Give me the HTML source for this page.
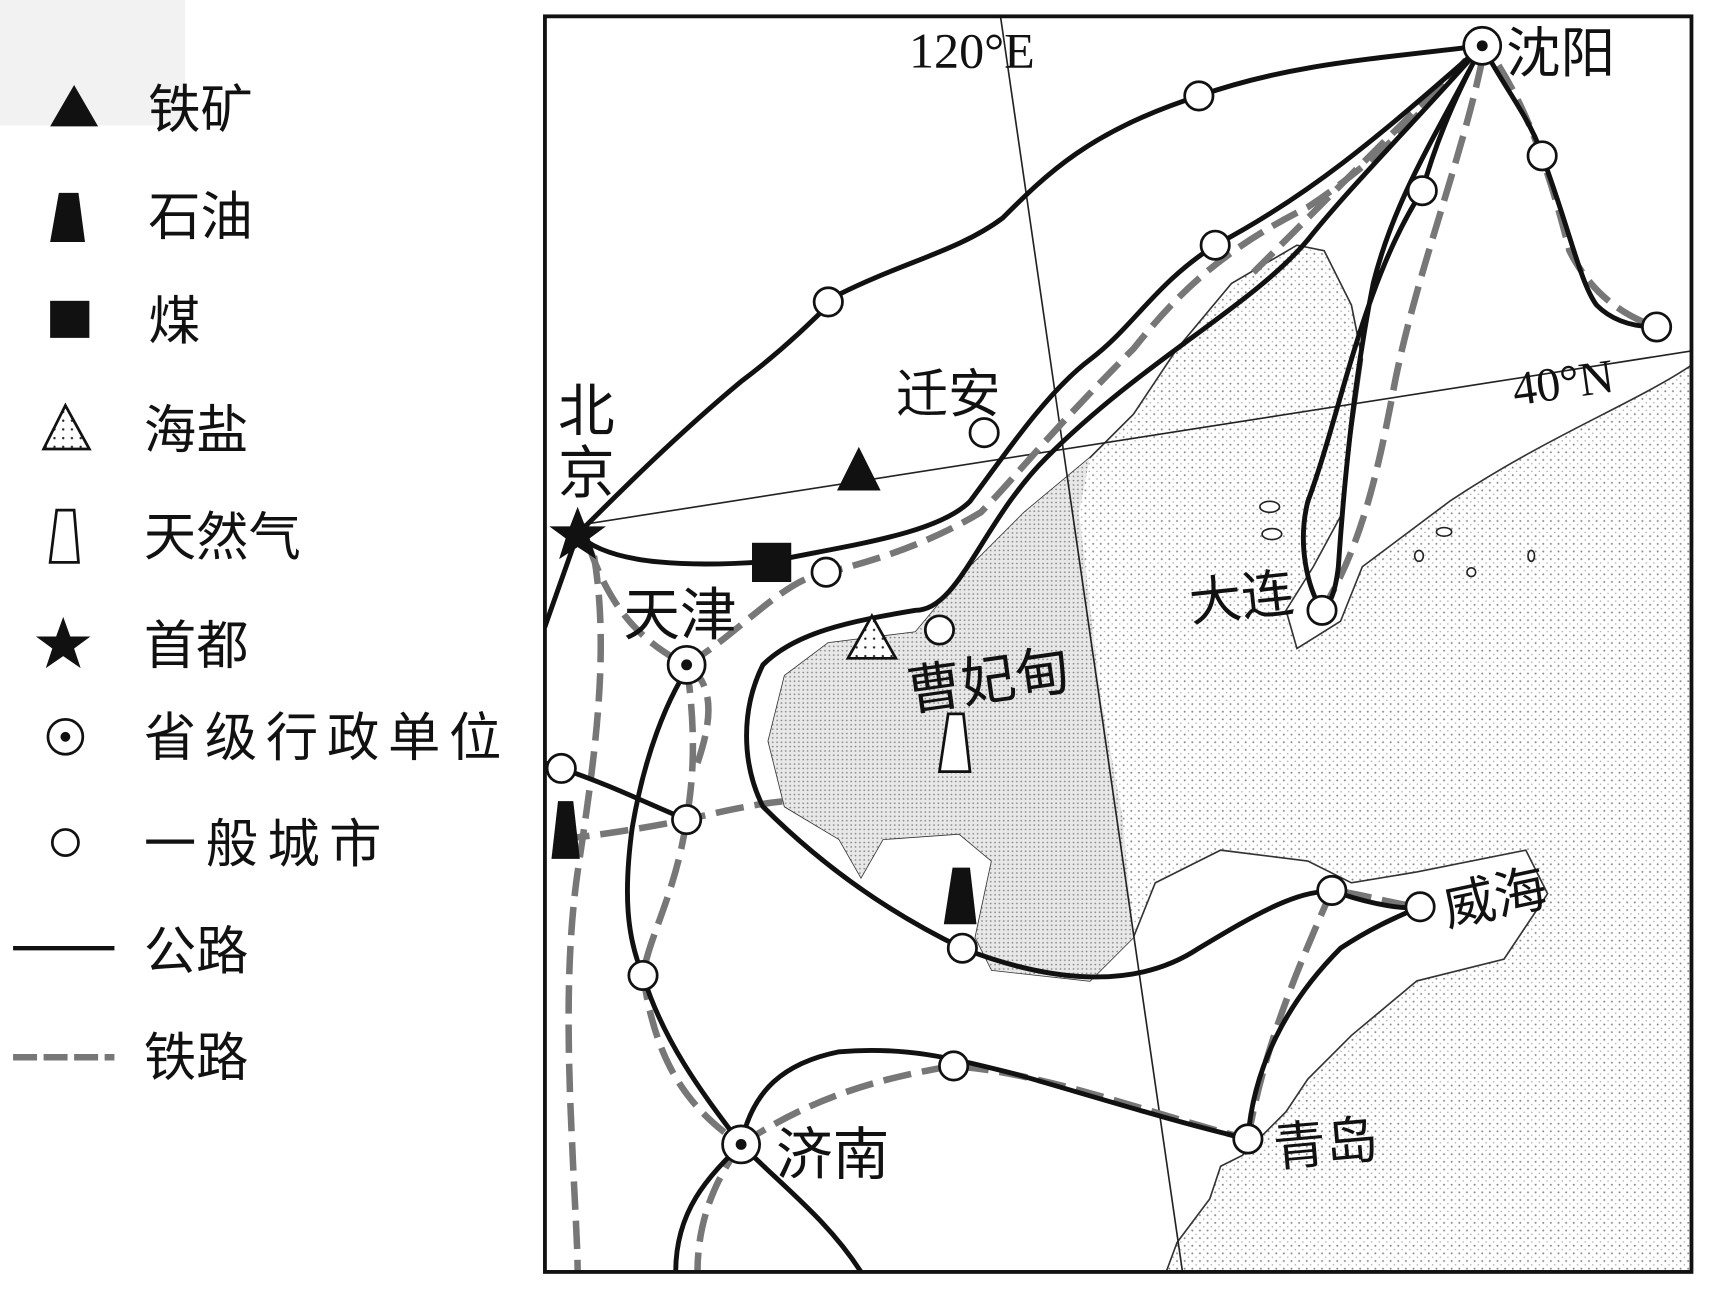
<!DOCTYPE html>
<html><head><meta charset="utf-8"><style>
html,body{margin:0;padding:0;background:#fff;}
svg{display:block;}
text{font-family:"Liberation Sans","Noto Sans CJK SC",sans-serif;fill:#111;}
.serif{font-family:"Liberation Serif","Noto Serif CJK SC",serif;}
.road{fill:none;stroke:#111;stroke-width:4.5;stroke-linejoin:round;stroke-linecap:round;}
.rail{fill:none;stroke:#777;stroke-width:6;stroke-dasharray:26 10;}
.city{fill:#fff;stroke:#111;stroke-width:2.5;}
</style></head><body>
<svg width="1710" height="1297" viewBox="0 0 1569 1190" preserveAspectRatio="none" xmlns="http://www.w3.org/2000/svg">
<defs>
<pattern id="dots1" width="7" height="7" patternUnits="userSpaceOnUse"><rect width="7" height="7" fill="#fff"/><circle cx="2" cy="2" r="0.9" fill="#888"/><circle cx="5.5" cy="5.5" r="0.7" fill="#aaa"/></pattern>
<pattern id="dots2" width="4" height="4" patternUnits="userSpaceOnUse"><rect width="4" height="4" fill="#e8e8e8"/><circle cx="1" cy="1" r="0.8" fill="#888"/></pattern>
<pattern id="dots3" width="8" height="8" patternUnits="userSpaceOnUse"><rect width="8" height="8" fill="#fff"/><circle cx="2" cy="2" r="1.1" fill="#222"/></pattern>
</defs>
<rect x="0" y="0" width="170" height="115" fill="#f2f2f2"/>
<!-- legend -->
<polygon points="68,78 46,116 90,116" fill="#111"/>
<text x="136" y="117" font-size="48">铁矿</text>
<polygon points="54,177 72,177 78,222 46,222" fill="#111"/>
<text x="136" y="215" font-size="48">石油</text>
<rect x="46" y="276" width="36" height="34" fill="#111"/>
<text x="136" y="311" font-size="48">煤</text>
<polygon points="60,372 40,412 82,412" fill="url(#dots3)" stroke="#111" stroke-width="2.5"/>
<text x="132" y="411" font-size="48">海盐</text>
<polygon points="52,468 68,468 72,516 46,516" fill="#fff" stroke="#111" stroke-width="2.5"/>
<text x="132" y="509" font-size="48">天然气</text>
<polygon points="58,566 64.5,584 83,584 68,595 74,613 58,602 42,613 48,595 33,584 51.5,584" fill="#111"/>
<text x="132" y="609" font-size="48">首都</text>
<circle cx="60" cy="676" r="16" fill="#fff" stroke="#111" stroke-width="2.5"/><circle cx="60" cy="676" r="4.5" fill="#111"/>
<text x="132" y="693" font-size="48" textLength="328">省级行政单位</text>
<circle cx="60" cy="773" r="12" fill="#fff" stroke="#111" stroke-width="2.5"/>
<text x="132" y="791" font-size="48" textLength="218">一般城市</text>
<line x1="12" y1="870" x2="105" y2="870" stroke="#111" stroke-width="4"/>
<text x="132" y="889" font-size="48">公路</text>
<line x1="12" y1="970" x2="105" y2="970" stroke="#777" stroke-width="6" stroke-dasharray="22 6"/>
<text x="132" y="987" font-size="48">铁路</text>

<!-- map -->
<clipPath id="fr"><rect x="500" y="15" width="1052" height="1152"/></clipPath>
<g clip-path="url(#fr)">
<path d="M1552,335 C1500,370 1420,400 1330,460 L1250,520 L1230,570 L1190,595 L1180,560 L1205,520 L1232,470 L1240,400 L1250,330 L1240,280 L1215,230 L1190,225 L1130,260 L1080,320 L1040,380 L1000,420 L940,470 L890,520 L840,580 L760,590 L720,620 L705,680 L720,740 L770,770 L790,805 L810,770 L880,765 L910,790 L895,860 L910,890 L1000,900 L1040,860 L1060,810 L1120,780 L1200,790 L1240,810 L1300,800 L1400,780 L1420,820 L1380,880 L1300,900 L1240,950 L1200,990 L1180,1020 L1140,1060 L1120,1070 L1110,1100 L1080,1140 L1070,1167 L1552,1167 Z" fill="url(#dots1)" stroke="#333" stroke-width="1.5"/>
<path d="M1000,420 L940,470 L890,520 L840,580 L760,590 L720,620 L705,680 L720,740 L770,770 L790,805 L810,770 L880,765 L910,790 L895,860 L910,890 L1000,900 L1040,860 L1030,750 L1010,640 L990,470 Z" fill="url(#dots2)"/>
<g fill="#fff" stroke="#222" stroke-width="1.5">
<ellipse cx="1165" cy="465" rx="9" ry="5"/><ellipse cx="1167" cy="490" rx="9" ry="5"/><ellipse cx="1325" cy="488" rx="7" ry="4"/><ellipse cx="1302" cy="510" rx="4" ry="5"/><ellipse cx="1350" cy="525" rx="4" ry="4"/><ellipse cx="1405" cy="510" rx="3" ry="5"/>
</g>
<line x1="918" y1="15" x2="1085" y2="1167" stroke="#222" stroke-width="1.5"/>
<line x1="530" y1="482" x2="1552" y2="322" stroke="#222" stroke-width="1.5"/>
<g>
<path class="rail" d="M540,500 C560,560 590,590 630,610"/>
<path class="rail" d="M630,610 C680,580 720,530 760,525 C800,515 850,500 900,470 C930,440 960,400 1040,320 C1080,270 1120,230 1200,190 C1260,150 1300,110 1345,55"/>
<path class="rail" d="M545,510 C560,600 545,700 530,800 C520,870 520,950 525,1050 C527,1100 530,1140 530,1167"/>
<path class="rail" d="M630,610 C640,680 635,720 630,752 C620,820 595,860 590,895 C600,960 620,1010 680,1050"/>
<path class="rail" d="M680,1050 C740,1010 800,990 875,978 C960,985 1050,1020 1145,1045"/>
<path class="rail" d="M1145,1045 C1160,960 1190,890 1222,817 C1250,820 1280,830 1303,832"/>
<path class="rail" d="M1360,55 C1340,150 1300,250 1280,350 C1265,430 1250,500 1213,560"/>
<path class="rail" d="M1375,60 C1400,100 1420,150 1440,230 C1460,270 1490,290 1520,300"/>
<path class="rail" d="M515,770 C560,765 600,758 630,752 C660,745 690,738 720,735"/>
<path class="rail" d="M1150,250 C1180,220 1250,150 1300,100 C1320,80 1340,60 1355,48"/>
<path class="rail" d="M630,610 C660,630 650,670 640,700"/>
<path class="rail" d="M680,1050 C650,1090 640,1130 640,1167"/>
</g>
<path class="road" d="M530,490 C570,450 620,400 680,350 C720,320 750,290 770,270 C830,240 880,230 920,200 C960,160 1000,120 1100,88 C1180,60 1250,55 1360,42"/>
<path class="road" d="M530,490 C560,520 640,520 708,515 C780,500 860,490 890,460 C920,420 960,360 1000,330 C1040,300 1060,260 1115,225 C1200,180 1260,130 1360,42"/>
<path class="road" d="M1360,42 C1300,110 1240,170 1200,220 C1150,280 1050,330 960,420 C900,480 880,560 840,560 C780,570 730,580 700,610 C680,650 680,700 700,740 C740,780 800,830 883,870 C960,900 1040,910 1100,870 C1150,840 1200,810 1230,820 C1260,830 1290,835 1303,832"/>
<path class="road" d="M1360,42 C1320,120 1280,180 1260,260 C1240,360 1232,460 1228,520 C1225,545 1220,555 1213,560 C1200,540 1190,500 1200,460 C1230,380 1250,260 1305,175 C1320,120 1345,70 1360,42"/>
<path class="road" d="M1360,42 C1380,80 1405,110 1415,143 C1440,210 1450,260 1465,280 C1480,295 1500,300 1520,300"/>
<path class="road" d="M530,490 L500,575"/>
<path class="road" d="M500,700 L515,705 C560,720 600,740 630,752"/>
<path class="road" d="M640,600 C610,640 590,700 580,760 C572,820 575,860 590,895 C610,960 650,1010 680,1050"/>
<path class="road" d="M680,1050 C690,1000 720,975 770,965 C830,960 870,970 930,985 C1000,1005 1080,1030 1145,1045"/>
<path class="road" d="M1145,1045 C1150,980 1180,920 1230,870 C1260,850 1285,840 1303,832"/>
<path class="road" d="M680,1050 C650,1080 620,1110 620,1167"/>
<path class="road" d="M680,1050 C720,1090 760,1120 790,1167"/>
<g class="city">
<circle cx="1100" cy="88" r="13"/><circle cx="760" cy="277" r="13"/><circle cx="1115" cy="225" r="13"/><circle cx="1305" cy="175" r="13"/><circle cx="1415" cy="143" r="13"/><circle cx="1520" cy="300" r="13"/><circle cx="903" cy="397" r="13"/><circle cx="758" cy="525" r="13"/><circle cx="862" cy="578" r="13"/><circle cx="515" cy="705" r="13"/><circle cx="630" cy="752" r="13"/><circle cx="590" cy="895" r="13"/><circle cx="883" cy="870" r="13"/><circle cx="1222" cy="817" r="13"/><circle cx="1303" cy="832" r="13"/><circle cx="875" cy="978" r="13"/><circle cx="1145" cy="1045" r="13"/><circle cx="1213" cy="560" r="13"/>
<circle cx="630" cy="610" r="17"/><circle cx="680" cy="1050" r="17"/><circle cx="1360" cy="42" r="17"/>
</g>
<circle cx="630" cy="610" r="5" fill="#111"/><circle cx="680" cy="1050" r="5" fill="#111"/><circle cx="1360" cy="42" r="5" fill="#111"/>
<polygon points="530,465 537,483 556,483 541,494 547,513 530,502 513,513 519,494 504,483 523,483" fill="#111"/>
<polygon points="788,410 768,450 808,450" fill="#111"/>
<rect x="690" y="498" width="36" height="36" fill="#111"/>
<polygon points="800,565 778,604 822,604" fill="url(#dots3)" stroke="#111" stroke-width="2.5"/>
<polygon points="870,655 884,655 890,708 862,708" fill="#fff" stroke="#111" stroke-width="2.5"/>
<polygon points="874,796 890,796 896,848 866,848" fill="#111"/>
<polygon points="512,735 526,735 532,788 506,788" fill="#111"/>
<text x="834" y="62" font-size="46" class="serif">120°E</text>
<text x="1390" y="372" font-size="44" class="serif" transform="rotate(-8 1390 372)">40°N</text>
<text x="512" y="395" font-size="52">北</text>
<text x="512" y="452" font-size="52">京</text>
<text x="572" y="582" font-size="52">天津</text>
<text x="822" y="378" font-size="48">迁安</text>
<text x="835" y="652" font-size="50" transform="rotate(-8 835 652)">曹妃甸</text>
<text x="1093" y="570" font-size="48" transform="rotate(-6 1093 570)">大连</text>
<text x="1328" y="850" font-size="48" transform="rotate(-12 1328 850)">威海</text>
<text x="1170" y="1070" font-size="48" transform="rotate(-5 1170 1070)">青岛</text>
<text x="712" y="1077" font-size="52">济南</text>
<text x="1382" y="66" font-size="50">沈阳</text>
</g>
<rect x="500" y="15" width="1052" height="1152" fill="none" stroke="#111" stroke-width="3.5"/>
</svg>
</body></html>
